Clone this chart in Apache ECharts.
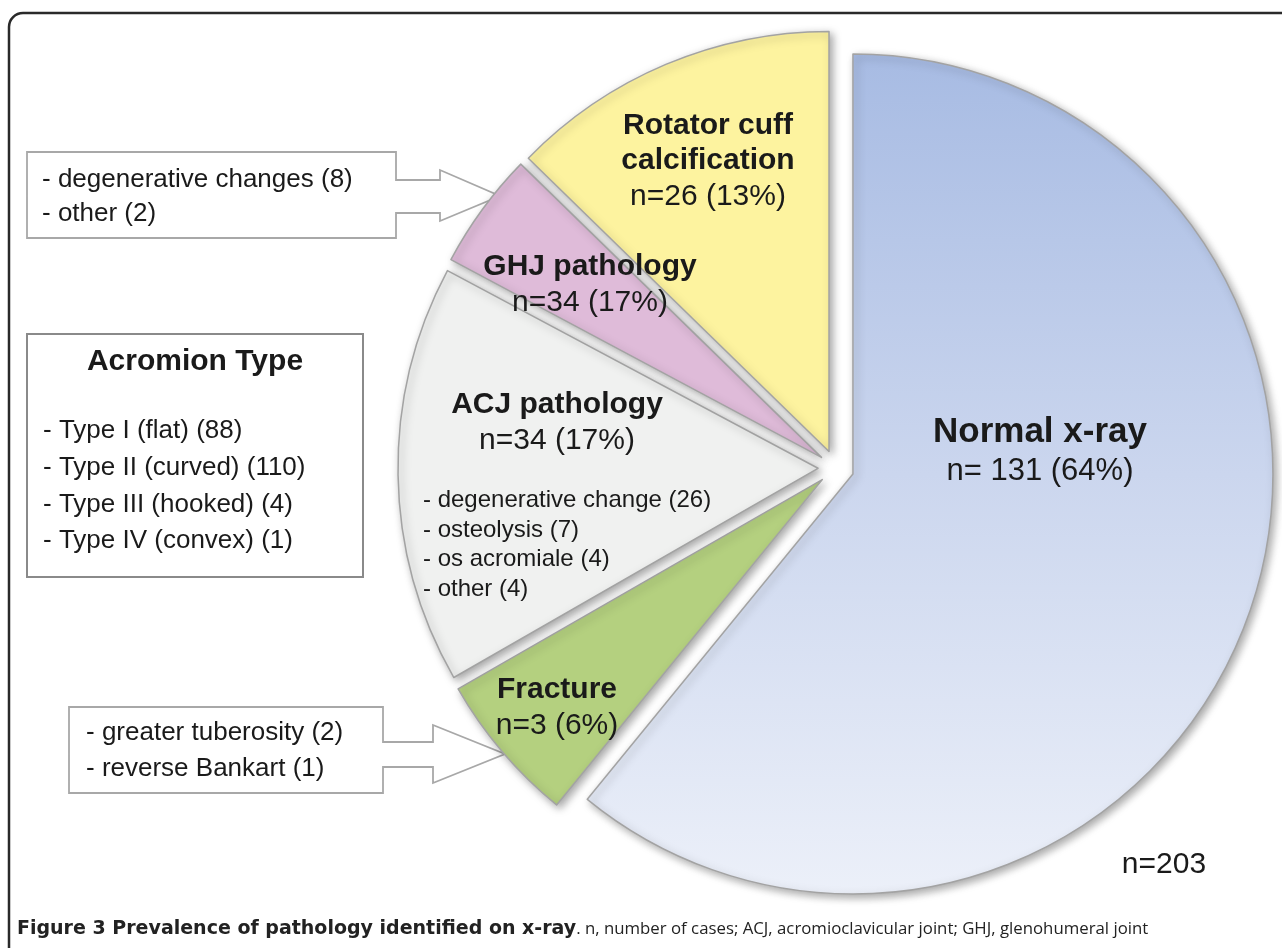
<!DOCTYPE html>
<html>
<head>
<meta charset="utf-8">
<script src="https://cdn.jsdelivr.net/npm/echarts@6/dist/echarts.min.js"></script>
<style>
html,body{margin:0;padding:0;background:#fff;}
#chart{width:1282px;height:948px;}
</style>
</head>
<body>
<div id="chart"></div>
<script>
// ---- data ----
const categories = ['Normal x-ray', 'Fracture', 'ACJ pathology', 'GHJ pathology', 'Rotator cuff\ncalcification'];
// slice sizes as drawn (share of the circle, %)
const sliceShare = [60.9, 5.8, 16.1, 4.5, 12.7];
// numbers printed in the slice labels
const labelCounts = [131, 3, 34, 34, 26];
const labelPercents = [64, 6, 17, 17, 13];
const totalCases = 203;

const acjDetails = ['degenerative change', 'osteolysis', 'os acromiale', 'other'];
const acjCounts = [26, 7, 4, 4];
const ghjDetails = ['degenerative changes', 'other'];
const ghjCounts = [8, 2];
const fractureDetails = ['greater tuberosity', 'reverse Bankart'];
const fractureCounts = [2, 1];
const acromionTypes = ['Type I (flat)', 'Type II (curved)', 'Type III (hooked)', 'Type IV (convex)'];
const acromionCounts = [88, 110, 4, 1];

const captionBold = 'Figure 3 Prevalence of pathology identified on x-ray';
const captionRest = '. n, number of cases; ACJ, acromioclavicular joint; GHJ, glenohumeral joint';

// ---- styles ----
const FONT = '"Liberation Sans", Arial, sans-serif';
const TXT = '#1a1a1a';
const sliceColors = [
  new echarts.graphic.LinearGradient(0, 0, 0, 1, [
    {offset: 0, color: '#a7bbe3'},
    {offset: 0.5, color: '#cbd6ee'},
    {offset: 1, color: '#ecf0f9'}
  ]),
  '#b4d07f', '#f0f1f0', '#dfbbd9', '#fdf39f'
];
const labelPos = [[1040, 451], [557, 708], [557, 423], [590, 285], [708, 162]];

function listText(items, counts) {
  return items.map((t, i) => '- ' + t + ' (' + counts[i] + ')').join('\n');
}

const pieData = categories.map((name, i) => ({
  name: name,
  value: sliceShare[i],
  selected: true,
  itemStyle: {color: sliceColors[i]}
}));

const sliceLabels = categories.map((name, i) => {
  const big = i === 0;
  const lines = name.split('\n').map(s => '{' + (big ? 'B' : 'b') + '|' + s + '}');
  lines.push('{' + (big ? 'N' : 'n') + '|n=' + (big ? ' ' : '') + labelCounts[i] + ' (' + labelPercents[i] + '%)}');
  return {
    type: 'text', z: 20,
    style: {
      x: labelPos[i][0], y: labelPos[i][1], text: lines.join('\n'),
      align: 'center', verticalAlign: 'middle',
      rich: {
        B: {fontFamily: FONT, fontWeight: 'bold', fontSize: 35, lineHeight: 40, fill: TXT},
        N: {fontFamily: FONT, fontSize: 31, lineHeight: 38, fill: TXT},
        b: {fontFamily: FONT, fontWeight: 'bold', fontSize: 30, lineHeight: 35, fill: TXT},
        n: {fontFamily: FONT, fontSize: 30, lineHeight: 37, fill: TXT}
      }
    }
  };
});

const chart = echarts.init(document.getElementById('chart'), null, {renderer: 'canvas'});

const option = {
  animation: false,
  series: [{
    type: 'pie',
    center: [836, 468],
    radius: 420,
    startAngle: 90,
    clockwise: true,
    selectedMode: 'multiple',
    selectedOffset: 18,
    avoidLabelOverlap: false,
    silent: true,
    z: 5,
    itemStyle: {
      borderColor: '#a3a3a3',
      borderWidth: 1.5,
      shadowBlur: 8,
      shadowOffsetX: 3,
      shadowOffsetY: 3,
      shadowColor: 'rgba(0,0,0,0.35)'
    },
    label: {show: false},
    labelLine: {show: false},
    data: pieData
  }],
  graphic: [
    // figure frame
    {type: 'rect', z: 0, shape: {x: 9, y: 13, width: 1320, height: 1000, r: 14},
     style: {fill: 'none', stroke: '#2a2a2a', lineWidth: 2.5}},
    // GHJ callout
    {type: 'polygon', z: 1,
     shape: {points: [[27, 152], [396, 152], [396, 180], [440, 180], [440, 170], [500, 196],
                      [440, 221], [440, 213], [396, 213], [396, 238], [27, 238]]},
     style: {fill: '#fff', stroke: '#a8a8a8', lineWidth: 1.8}},
    {type: 'text', z: 3, style: {x: 42, y: 197, text: listText(ghjDetails, ghjCounts),
     font: '26px ' + FONT, fill: TXT, lineHeight: 34, verticalAlign: 'middle', align: 'left'}},
    // Fracture callout
    {type: 'polygon', z: 1,
     shape: {points: [[69, 707], [383, 707], [383, 742], [433, 742], [433, 725], [505, 754],
                      [433, 783], [433, 767], [383, 767], [383, 793], [69, 793]]},
     style: {fill: '#fff', stroke: '#a8a8a8', lineWidth: 1.8}},
    {type: 'text', z: 3, style: {x: 86, y: 751, text: listText(fractureDetails, fractureCounts),
     font: '26px ' + FONT, fill: TXT, lineHeight: 36, verticalAlign: 'middle', align: 'left'}},
    // Acromion box
    {type: 'rect', z: 1, shape: {x: 27, y: 334, width: 336, height: 243},
     style: {fill: '#fff', stroke: '#8a8a8a', lineWidth: 2}},
    {type: 'text', z: 3, style: {x: 195, y: 362, text: 'Acromion Type',
     font: 'bold 30px ' + FONT, fill: TXT, verticalAlign: 'middle', align: 'center'}},
    {type: 'text', z: 3, style: {x: 43, y: 486, text: listText(acromionTypes, acromionCounts),
     font: '26px ' + FONT, fill: TXT, lineHeight: 36.7, verticalAlign: 'middle', align: 'left'}},
    // ACJ details (over the slice)
    {type: 'text', z: 20, style: {x: 423, y: 545, text: listText(acjDetails, acjCounts),
     font: '24px ' + FONT, fill: TXT, lineHeight: 29.6, verticalAlign: 'middle', align: 'left'}},
    // total
    {type: 'text', z: 3, style: {x: 1164, y: 865, text: 'n=' + totalCases,
     font: '30px ' + FONT, fill: TXT, verticalAlign: 'middle', align: 'center'}},
    // caption
    {type: 'text', z: 3, style: {x: 17, y: 929,
     text: '{b|' + captionBold + '}{r|' + captionRest + '}',
     verticalAlign: 'middle', align: 'left',
     rich: {
       b: {fontFamily: '"DejaVu Sans", sans-serif', fontWeight: 'bold', fontSize: 19, fill: '#222'},
       r: {fontFamily: '"Open Sans", sans-serif', fontSize: 16.8, fill: '#222'}
     }}}
  ].concat(sliceLabels)
};
chart.setOption(option);
</script>
</body>
</html>
